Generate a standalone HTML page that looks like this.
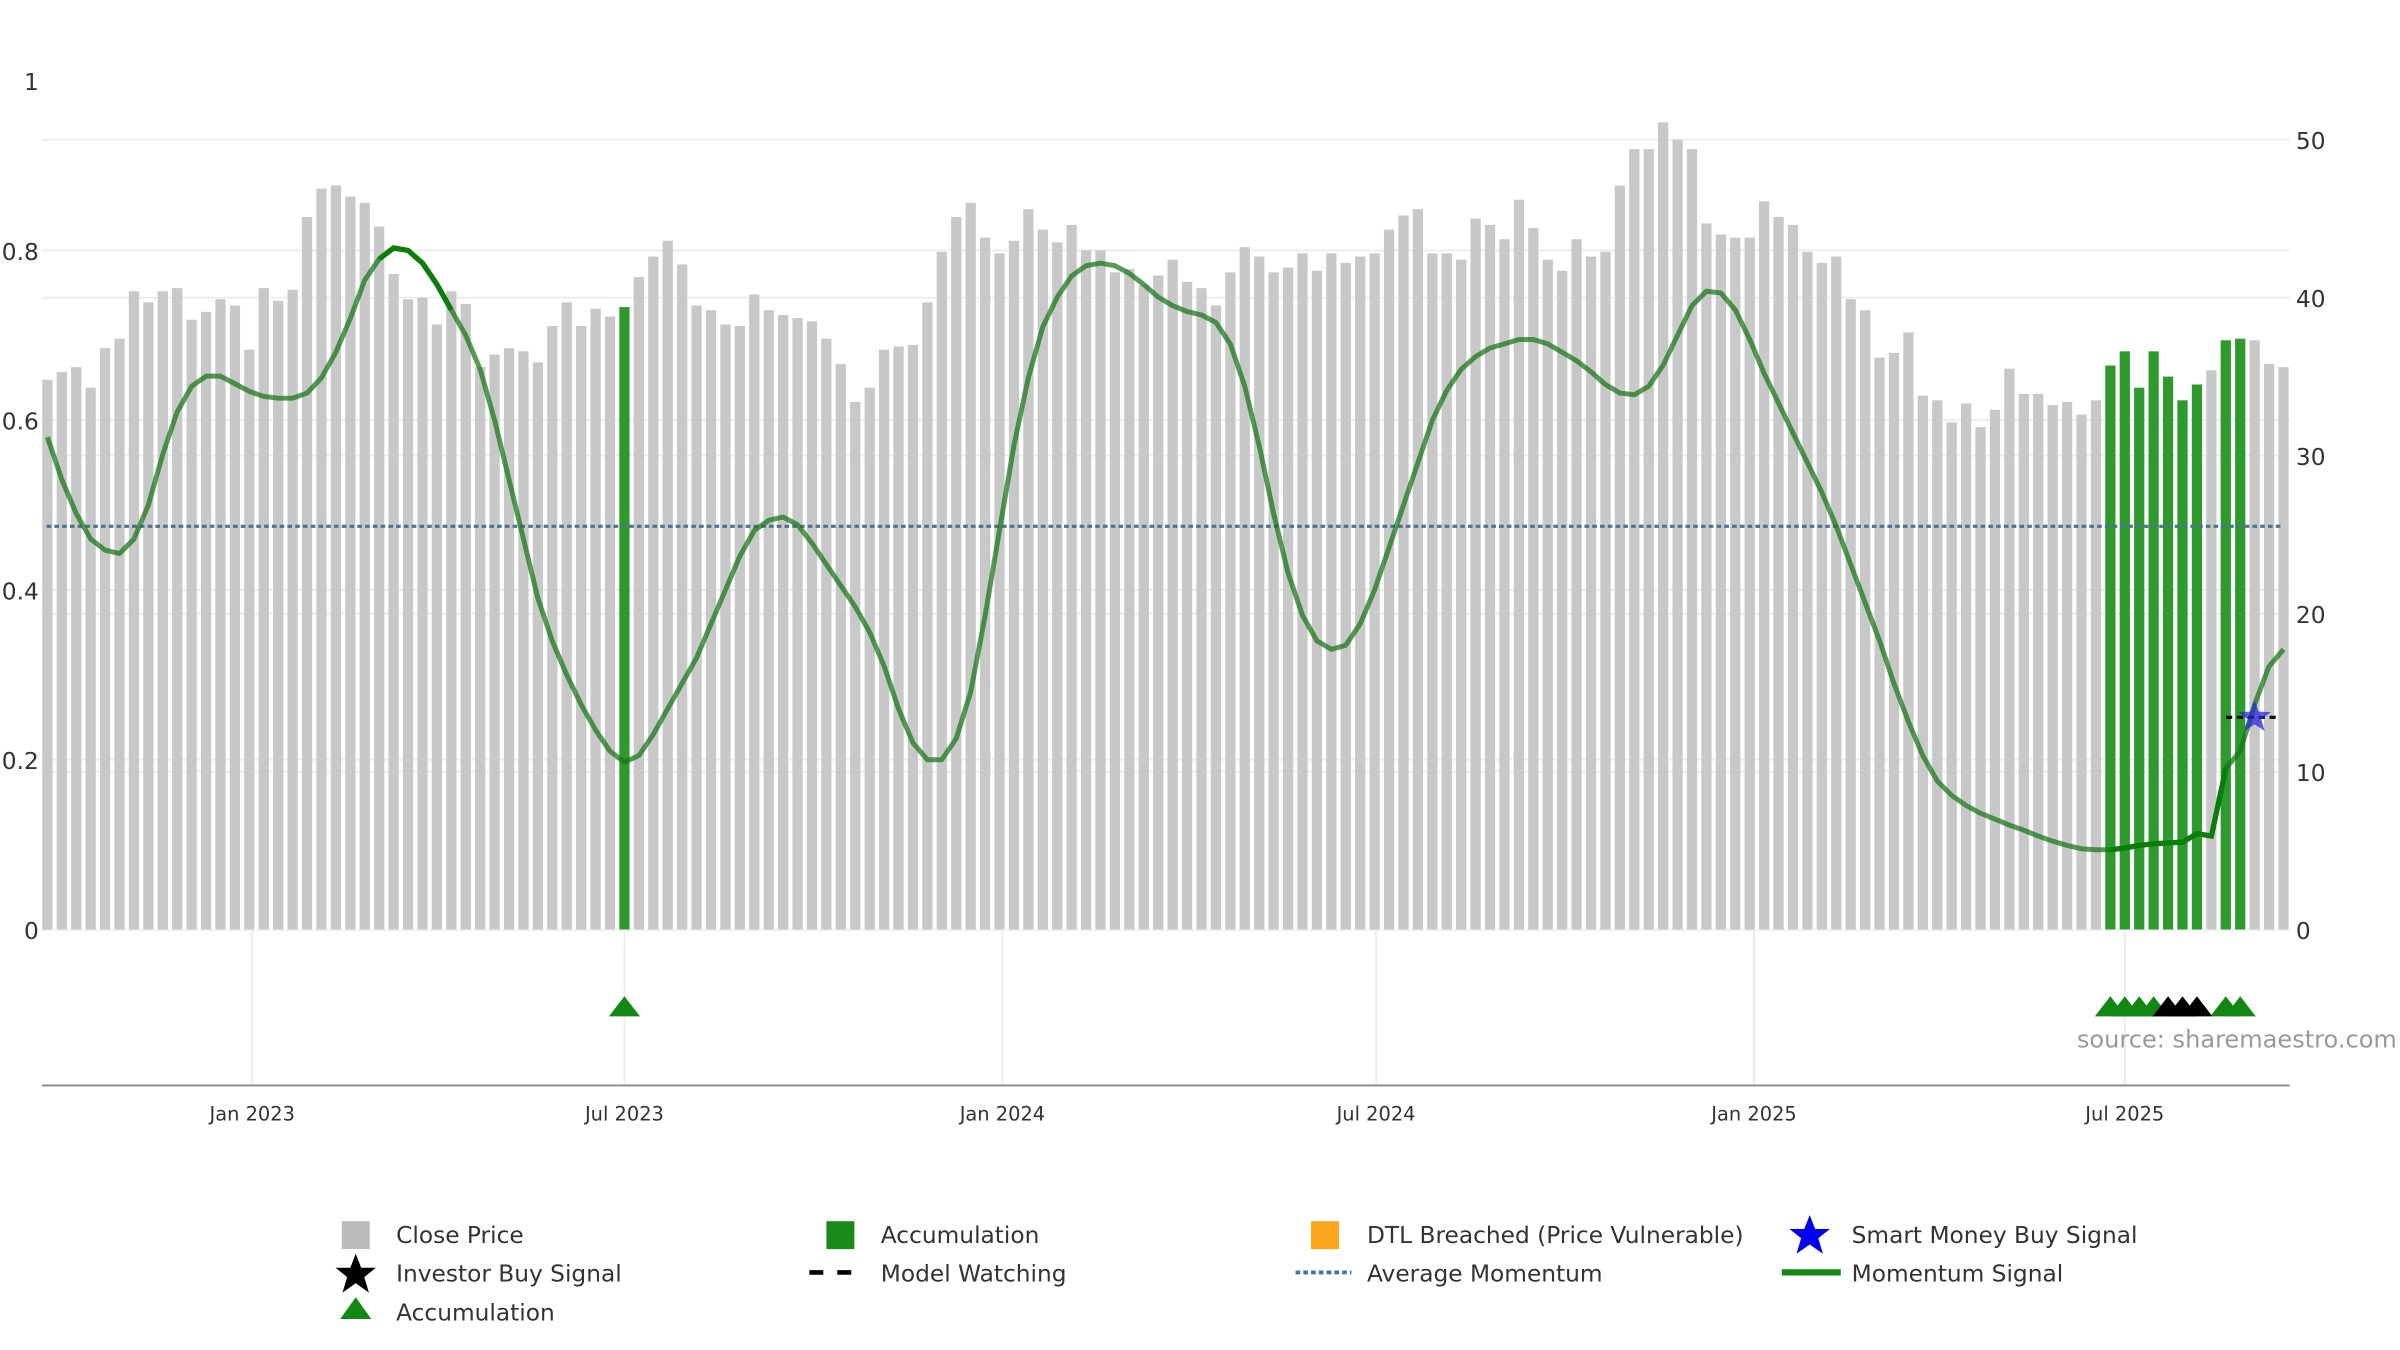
<!DOCTYPE html>
<html><head><meta charset="utf-8">
<style>
html,body{margin:0;padding:0;background:#fff;}
svg{display:block;font-family:"DejaVu Sans","Liberation Sans",sans-serif;}
</style></head>
<body>
<svg id="chart" width="2400" height="1350" viewBox="0 0 1545 870" preserveAspectRatio="none" xmlns="http://www.w3.org/2000/svg">
<g id="grid"></g>
<g id="bars"></g>
<g id="lines"></g>
<g id="axes"></g>
<g id="lower"></g>
<text x="1337" y="675" font-size="15.5" fill="#999">source: sharemaestro.com</text>
<g id="legend" font-size="15" fill="#333">
  <g><rect x="220" y="787" width="18" height="18" fill="#bbb"/><text x="255" y="801">Close Price</text></g>
  <g><rect x="532" y="787" width="18" height="18" fill="#1a8a1a"/><text x="567" y="801">Accumulation</text></g>
  <g><rect x="844" y="787" width="18" height="18" fill="#f9a61c"/><text x="880" y="801">DTL Breached (Price Vulnerable)</text></g>
  <g><polygon points="1165,783 1168.5,792 1178,792 1170.5,798 1173.5,808 1165,802 1156.5,808 1159.5,798 1152,792 1161.5,792" fill="#0000ee"/><text x="1192" y="801">Smart Money Buy Signal</text></g>
  <g><polygon points="229,808 232.5,817 242,817 234.5,823 237.5,833 229,827 220.5,833 223.5,823 216,817 225.5,817" fill="#000"/><text x="255" y="826">Investor Buy Signal</text></g>
  <g><line x1="521" y1="820" x2="557" y2="820" stroke="#000" stroke-width="3" stroke-dasharray="9,9"/><text x="567" y="826">Model Watching</text></g>
  <g><line x1="834" y1="820" x2="870" y2="820" stroke="#3a78a8" stroke-width="2.5" stroke-dasharray="3,2"/><text x="880" y="826">Average Momentum</text></g>
  <g><line x1="1147" y1="820" x2="1185" y2="820" stroke="#118811" stroke-width="4"/><text x="1192" y="826">Momentum Signal</text></g>
  <g><polygon points="229,836 239,850 219,850" fill="#118811"/><text x="255" y="851">Accumulation</text></g>
</g>
</svg>
<script>
const closePrices = [34.8,35.3,35.6,34.3,36.8,37.4,40.4,39.7,40.4,40.6,
38.6,39.1,39.9,39.5,36.7,40.6,39.8,40.5,45.1,46.9,
47.1,46.4,46.0,44.5,41.5,39.9,40.0,38.3,40.4,39.6,
35.6,36.4,36.8,36.6,35.9,38.2,39.7,38.2,39.3,38.8,
39.4,41.3,42.6,43.6,42.1,39.5,39.2,38.3,38.2,40.2,
39.2,38.9,38.7,38.5,37.4,35.8,33.4,34.3,36.7,36.9,
37.0,39.7,42.9,45.1,46.0,43.8,42.8,43.6,45.6,44.3,
43.5,44.6,43.0,
43.0,41.6,41.8,40.8,41.4,42.4,41.0,40.6,
39.5,41.6,43.2,42.6,41.6,41.9,42.8,41.7,42.8,42.2,
42.6,42.8,44.3,45.2,45.6,42.8,42.8,42.4,45.0,44.6,
43.7,46.2,44.4,42.4,41.7,43.7,42.6,42.9,47.1,49.4,
49.4,51.1,50.0,49.4,44.7,44.0,43.8,43.8,46.1,45.1,
44.6,42.9,42.2,42.6,39.9,39.2,36.2,36.5,37.8,33.8,
33.5,32.1,33.3,31.8,32.9,35.5,33.9,33.9,33.2,33.4,
32.6,33.5,35.7,36.6,34.3,36.6,35.0,33.5,34.5,35.4,
37.3,37.4,37.3,35.8,35.6];
const accumulationBars = [40,143,144,145,146,147,148,149,151,152];
const momentum = [0.58,0.53,0.49,0.46,0.447,0.443,0.46,0.50,0.56,0.61,0.64,0.652,0.652,0.643,0.634,0.628,0.626,0.626,0.632,0.65,
0.68,0.72,0.765,0.79,0.803,0.80,0.785,0.76,0.73,0.70,0.66,0.60,0.53,0.46,0.39,0.34,0.30,0.265,0.235,0.21,
0.197,0.205,0.23,0.26,0.29,0.32,0.36,0.40,0.44,0.47,0.482,0.486,0.477,0.455,0.43,0.405,0.38,0.35,0.31,0.26,
0.22,0.20,0.20,0.225,0.28,0.37,0.47,0.57,0.65,0.71,0.745,0.77,0.782,0.785,0.782,0.773,0.76,0.745,0.735,0.728,
0.724,0.715,0.69,0.64,0.57,0.49,0.42,0.37,0.34,0.33,0.335,0.36,0.40,0.45,0.50,0.55,0.60,0.635,0.66,0.675,
0.685,0.69,0.695,0.695,0.69,0.68,0.67,0.657,0.642,0.632,0.63,0.64,0.665,0.70,0.735,0.752,0.75,0.73,0.695,0.655,
0.62,0.585,0.55,0.515,0.475,0.43,0.385,0.34,0.29,0.245,0.205,0.175,0.158,0.146,0.137,0.13,0.123,0.117,0.11,0.104,
0.099,0.095,0.094,0.094,0.096,0.099,0.101,0.102,0.103,0.113,0.11,0.19,0.21,0.265,0.31,0.33];
const avgMomentum = 0.475;
const greenTriangles = [40,143,144,145,146,151,152];
const blackTriangles = [147,148,149];
const smartMoneyIdx = 153;
const smartMoneyValue = 0.25;
const leftTicks = [0,0.2,0.4,0.6,0.8,1];
const leftTickLabels = ["0","0.2","0.4","0.6","0.8","1"];
const rightTicks = [0,10,20,30,40,50];
const dateTicks = ["Jan 2023","Jul 2023","Jan 2024","Jul 2024","Jan 2025","Jul 2025"];
const dateTickIdx = [14.2,40.0,66.2,92.1,118.3,144.0];

const NS="http://www.w3.org/2000/svg";
const X0=30.5,X1=1470;
const xb=i=>X0+i*(X1-X0)/(closePrices.length-1);
const xm=i=>X0+i*(X1-X0)/(momentum.length-1);
const yR=v=>599-v*10.18;
const yL=v=>599-v*547;
function mk(tag,attrs,parent){const e=document.createElementNS(NS,tag);for(const k in attrs)e.setAttribute(k,attrs[k]);parent.appendChild(e);return e;}
const grid=document.getElementById('grid'),bars=document.getElementById('bars'),lines=document.getElementById('lines'),axes=document.getElementById('axes'),lower=document.getElementById('lower');

rightTicks.forEach(t=>{if(t>0){const l=mk('line',{x1:27,x2:1474,y1:yR(t),y2:yR(t),stroke:'#ececec','stroke-width':1.2},grid);

}
const tx=mk('text',{x:1478,y:yR(t)+6,'font-size':15,fill:'#333'},axes);tx.textContent=t;

});
leftTicks.forEach((t,k)=>{if(t>0&&t<1){const l=mk('line',{x1:27,x2:1474,y1:yL(t),y2:yL(t),stroke:'#ececec','stroke-width':1.2},grid);

}
const tx=mk('text',{x:25,y:yL(t)+6,'font-size':15,fill:'#333','text-anchor':'end'},axes);tx.textContent=leftTickLabels[k];

});

closePrices.forEach((v,i)=>{const g=accumulationBars.includes(i);
const r=mk('rect',{x:xb(i)-3.3,y:yR(v),width:6.6,height:599-yR(v),fill:g?'#2e9a2e':'#c8c8c8'},bars);

});

const avg=mk('line',{x1:30,x2:1470,y1:yL(avgMomentum),y2:yL(avgMomentum),stroke:'#4a7396','stroke-width':2,'stroke-dasharray':'3,2'},lines);


const pts=momentum.map((v,i)=>xm(i).toFixed(1)+','+yL(v).toFixed(1)).join(' ');
const ml=mk('polyline',{points:pts,fill:'none',stroke:'rgba(20,115,20,0.72)','stroke-width':3.2,'stroke-linejoin':'round'},lines);


function seg(a,b){const p=momentum.slice(a,b+1).map((v,k)=>xm(a+k).toFixed(1)+','+yL(v).toFixed(1)).join(' ');
const s=mk('polyline',{points:p,fill:'none',stroke:'#0a7d0a','stroke-width':3.4},lines);

}
seg(23,28);seg(143,151);
const mw=mk('line',{x1:1433,x2:1468,y1:yL(smartMoneyValue),y2:yL(smartMoneyValue),stroke:'#000','stroke-width':2,'stroke-dasharray':'4,3'},lines);


const sx=xm(smartMoneyIdx),sy=yL(smartMoneyValue);
const star=[];for(let k=0;k<10;k++){const r=k%2?4.5:11,a=-Math.PI/2+k*Math.PI/5;star.push((sx+r*Math.cos(a)).toFixed(1)+','+(sy+r*Math.sin(a)).toFixed(1));}
const st=mk('polygon',{points:star.join(' '),fill:'rgba(40,40,220,0.75)'},lines);



dateTickIdx.forEach((d,k)=>{const x=xb(d);
const l=mk('line',{x1:x,x2:x,y1:600,y2:699,stroke:'#ececec','stroke-width':1.2},grid);


const tx=mk('text',{x:x,y:722,'font-size':12.5,fill:'#333','text-anchor':'middle'},axes);tx.textContent=dateTicks[k];

});
const ax=mk('line',{x1:27,x2:1474,y1:699.5,y2:699.5,stroke:'#888','stroke-width':1.2},axes);


const zl=mk('line',{x1:27,x2:1474,y1:599.5,y2:599.5,stroke:'#eef0f3','stroke-width':1},axes);



function tri(i,col,name){const x=xb(i);
const t=mk('polygon',{points:`${x},${642} ${x+10},${655} ${x-10},${655}`,fill:col},lower);

}
greenTriangles.forEach(i=>tri(i,'#118811','accumulation-triangle'));
blackTriangles.forEach(i=>tri(i,'#000','investor-buy-triangle'));
</script>
</body></html>
